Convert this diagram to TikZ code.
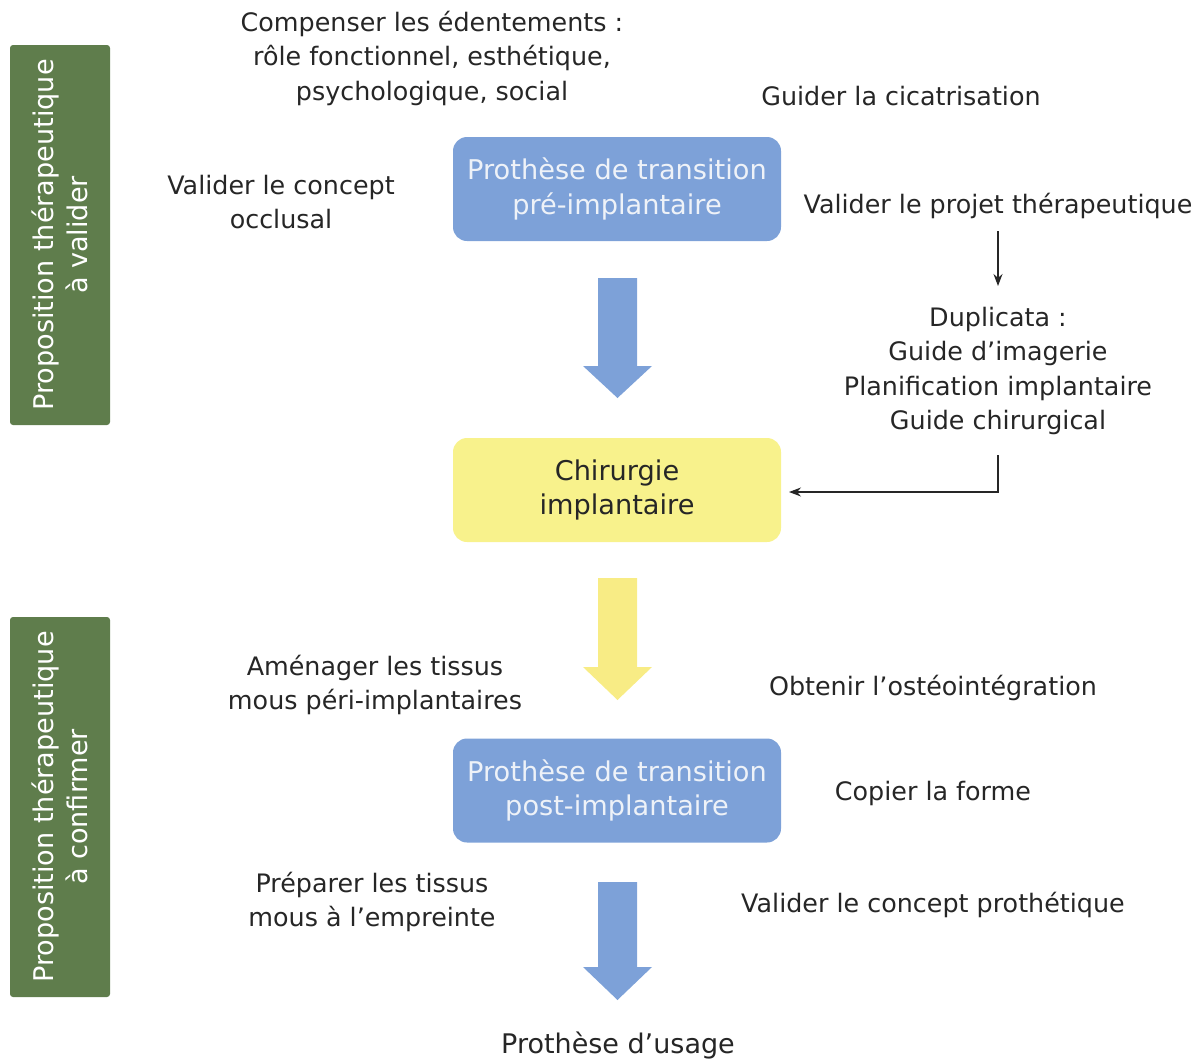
\documentclass[tikz,border=0pt]{standalone}
\usepackage{fontspec}
\setmainfont{DejaVu Sans}
\usetikzlibrary{arrows.meta}
\definecolor{gbox}{HTML}{5F7D4C}
\definecolor{bbox}{HTML}{7DA1D8}
\definecolor{ybox}{HTML}{F8F28C}
\definecolor{txt}{HTML}{262626}
\definecolor{btxt}{HTML}{EEF2F8}
\tikzset{
  lbl/.style={align=center,inner sep=0pt,text=txt,font=\fontsize{25.4}{34.5}\selectfont},
  bluebox/.style={fill=bbox,rounded corners=14pt,minimum width=328pt,minimum height=104pt,align=center,text=btxt,font=\fontsize{27.2}{34.5}\selectfont,inner sep=0pt},
  yellowbox/.style={fill=ybox,rounded corners=14pt,minimum width=328pt,minimum height=104pt,align=center,text=txt,font=\fontsize{27.2}{34.5}\selectfont,inner sep=0pt},
  sidebox/.style={fill=gbox,rounded corners=3pt,minimum width=380pt,minimum height=100pt,align=center,text=white,font=\fontsize{27.1}{34.5}\selectfont,inner sep=0pt,rotate=90},
  thin/.style={draw=txt,line width=1.1pt},
  tip/.style={-{Stealth[length=12pt,width=9pt]}},
}
\begin{document}
\begin{tikzpicture}[x=1pt,y=-1pt]
\useasboundingbox (0,0) rectangle (1203,1061);
% side boxes
\node[sidebox] (side1) at (60,235) {Proposition thérapeutique\\à valider};
\node[sidebox] (side2) at (60,807) {Proposition thérapeutique\\à confirmer};
% main boxes
\node[bluebox] (pre) at (617,189) {Prothèse de transition\\pré-implantaire};
\node[yellowbox] (chir) at (617,490) {Chirurgie\\implantaire};
\node[bluebox] (post) at (617,790.5) {Prothèse de transition\\post-implantaire};
\node[lbl,font=\fontsize{27}{34.5}\selectfont] (usage) at (618,1045) {Prothèse d’usage};
% block arrows
\fill[bbox] (598,278) -- (637,278) -- (637,366) -- (652,366) -- (617.5,398) -- (583,366) -- (598,366) -- cycle;
\fill[ybox!95!orange] (598,578) -- (637,578) -- (637,667) -- (652,667) -- (617.5,700) -- (583,667) -- (598,667) -- cycle;
\fill[bbox] (598,882) -- (637,882) -- (637,967) -- (652,967) -- (617.5,1000) -- (583,967) -- (598,967) -- cycle;
% labels
\node[lbl] (comp) at (432,58) {Compenser les édentements :\\rôle fonctionnel, esthétique,\\psychologique, social};
\node[lbl] (cica) at (901,96) {Guider la cicatrisation};
\node[lbl] (occl) at (281,202) {Valider le concept\\occlusal};
\node[lbl] (projet) at (998,206) {Valider le projet thérapeutique};
\node[lbl] (dup) at (998,371) {Duplicata :\\Guide d’imagerie\\Planification implantaire\\Guide chirurgical};
\node[lbl] (amen) at (375,685) {Aménager les tissus\\mous péri-implantaires};
\node[lbl] (osteo) at (933,688) {Obtenir l’ostéointégration};
\node[lbl] (copier) at (933,793) {Copier la forme};
\node[lbl] (prep) at (372,902) {Préparer les tissus\\mous à l’empreinte};
\node[lbl] (valp) at (933,905) {Valider le concept prothétique};
% thin connectors
\coordinate (a1) at (998,231);
\coordinate (a2) at (998,286);
\draw[thin,tip] (a1) -- (a2);
\coordinate (b1) at (998,455);
\coordinate (b2) at (789,492);
\draw[thin,tip] (b1) |- (b2);
\end{tikzpicture}
\end{document}
